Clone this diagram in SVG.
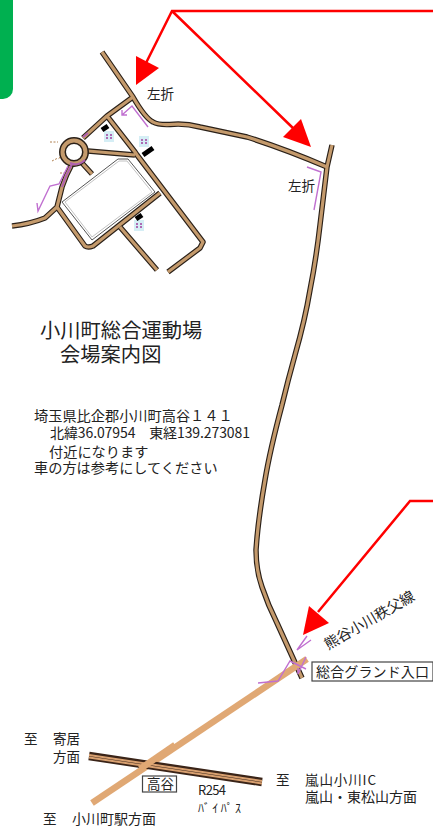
<svg xmlns="http://www.w3.org/2000/svg" width="433" height="830" viewBox="0 0 433 830">
<style>
text{font-family:"Noto Sans CJK JP","Liberation Sans",sans-serif;fill:#222;font-size:14px}
.o,.t,.h,.c,.p,.r{fill:none}
.o{stroke:#2a2018;stroke-width:5.5;stroke-linejoin:round}
.t{stroke:#c49a6c;stroke-width:3.2;stroke-linejoin:round}
.h{stroke:#e0a874;stroke-width:6.5}
.c{stroke:#3a2418;stroke-width:1.5}
.p{stroke:#c070d0;stroke-width:1.4}
.r{stroke:#f00;stroke-width:2.5}
.a{fill:#f00}
.i{fill:#d5eef5}
.box{fill:#fff;stroke:#444;stroke-width:1.2}
</style>
<defs>
<path id="roads" d="M102 52L133 97Q145 118 153 122Q158 125 170 124.500Q185 123 200 127L247 137Q285 149 327 167M332 145L327 167L320 225Q316 260 310 290Q305 320 295 355Q288 380 282 405Q270 450 265 480Q258 520 256 550Q256 570 262 587Q268 605 277 623L302 678M133 97L107 116L83 138M107 116L135 152L137 155L203 242L200 248L168 272M135 155L88 151M82 163L92 174M72 164Q66 175 62 187L57 207L45 218Q30 224 12 226M57 207L85 246Q88 248 93 246L160 193M120 227L157 270"/>
</defs>
<rect id="tab" x="-12" y="-12" width="25" height="111" rx="10" fill="#00b050"/>
<g id="connectors">
<use href="#roads" class="o"/><use href="#roads" class="t"/>
<path class="h" d="M307 659L92 803"/>
<path d="M89 756L262 782" fill="none" stroke="#3a2418" stroke-width="8.500"/>
<path d="M89 755L262 781M89 757.500L262 783.500" fill="none" stroke="#d8a070" stroke-width="2"/>
<path class="h" d="M175 745L140 769"/>
<path class="r" d="M433 11H172L146 63M172 11L295 130M433 501H410L318 612"/>
<path class="a" d="M136 56L159 68L136 85Z"/>
<path class="a" d="M301 119L283 137L311 147Z"/>
<path class="a" d="M309 606L329 623L303 635Z"/>
<path class="p" d="M122 115L132 106L148 127M122 110V115H127M37 203L38 211L50 186L59 184L68 166M306 657L298 674V668M307 636L297 650L311 640M306 669L290 661L278 681L258 683"/>
<path class="p" d="M307 167L321 172L314 210" />
</g>
<g id="venue">
<circle cx="74" cy="152" r="11.500" fill="#fff" stroke="#2a2018" stroke-width="7"/>
<circle cx="74" cy="152" r="11.500" fill="none" stroke="#c49a6c" stroke-width="4"/>
<path d="M83 137Q88 133 88 133M85 160A13 13 0 0 1 70 163M72 164Q66 175 62 187" fill="none" stroke="#b060b0" stroke-width="2"/>
<path d="M118 159L128 159L155 192L92 240L62 202Z" fill="#fff" stroke="#555" stroke-width="1"/>
<path d="M119 161L127 161L152 192L92 237L65 202Z" fill="none" stroke="#999" stroke-width=".6"/>
<rect class="i" x="104" y="131" width="10" height="11"/><rect class="i" x="139" y="136" width="10" height="11"/><rect class="i" x="134" y="220" width="10" height="11"/>
<path d="M102 130L108 126M143 155L153 148M136 219L142 215" stroke="#000" stroke-width="5" fill="none"/>
<path d="M107 134v6M111 134v6M142 139v6M146 139v6M137 223v6M141 223v6" stroke="#a040a0" stroke-width="1.500" stroke-dasharray="2 1" fill="none"/>
<path d="M50 142H58M52 161L58 158M60 157L58 160M60 173H64" stroke="#b08050" stroke-width="1" stroke-dasharray="2 1.500" fill="none"/>
</g>
<g id="labels">
<text x="147" y="99" style="font-size:13.500px">左折</text>
<text x="288" y="191" style="font-size:13.500px">左折</text>
<text x="40" y="338" style="font-size:20.300px">小川町総合運動場</text>
<text x="60" y="362" style="font-size:20.300px">会場案内図</text>
<text x="34" y="421" style="font-size:14.200px">埼玉県比企郡小川町高谷１４１</text>
<text x="50" y="438" style="font-size:14px" textLength="200">北緯36.07954　東経139.273081</text>
<text x="49" y="457" style="font-size:14.200px">付近になります</text>
<text x="34" y="473" style="font-size:14.200px">車の方は参考にしてください</text>
<text transform="translate(328 650) rotate(-30)" style="font-size:14.500px">熊谷小川秩父線</text>
<text x="24" y="744" style="font-size:13.500px">至</text>
<text x="53" y="744" style="font-size:13.500px">寄居</text>
<text x="53" y="762" style="font-size:13.500px">方面</text>
<text x="276" y="785" style="font-size:13.500px">至</text>
<text x="305" y="785" style="font-size:13.500px" textLength="71">嵐山小川IC</text>
<text x="305" y="802" style="font-size:14px">嵐山・東松山方面</text>
<text x="43" y="824" style="font-size:13.500px">至</text>
<text x="72" y="824" style="font-size:14px">小川町駅方面</text>
<text x="198" y="795" style="font-size:13px" textLength="28">R254</text>
<text x="198" y="813" style="font-size:12px" textLength="43">ﾊﾞｲﾊﾟｽ</text>
</g>
<g id="takaya"><rect class="box" x="142.500" y="776" width="34" height="16"/><text x="147" y="789" style="font-size:13.500px">高谷</text></g>
<g id="entrance"><rect class="box" x="312" y="662" width="121" height="19"/><text x="316" y="677" style="font-size:14px" textLength="113">総合グランド入口</text></g>
</svg>
